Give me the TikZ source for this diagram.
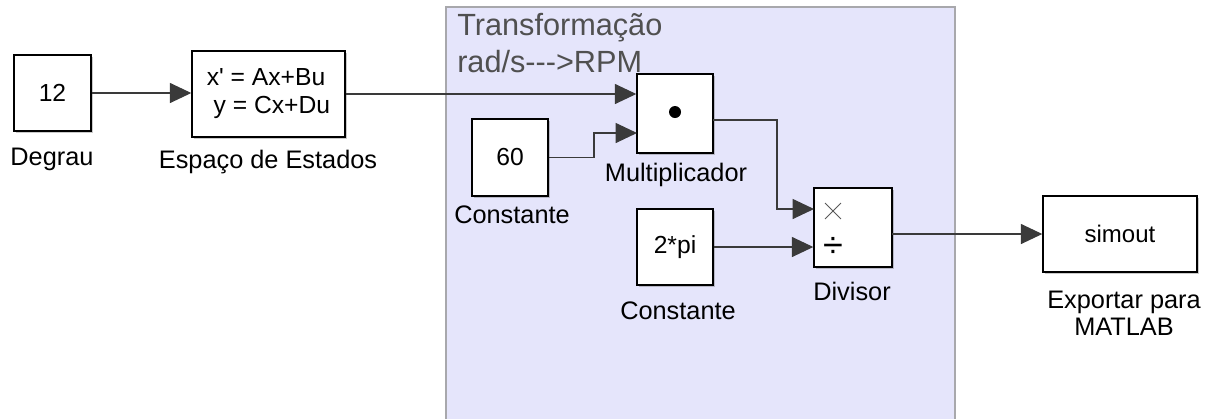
\documentclass[tikz,border=0pt]{standalone}
\usepackage{fontspec}
\setmainfont{Liberation Sans}
\usetikzlibrary{arrows.meta,shadows,calc,shapes.misc}
\definecolor{areafill}{HTML}{E5E5FB}
\definecolor{areaedge}{HTML}{A8A8AC}
\definecolor{wire}{HTML}{3A3A3A}
\definecolor{titlegray}{HTML}{505050}
\tikzset{
  block/.style={draw=black, line width=1.1pt, fill=white, inner sep=0pt,
    drop shadow={shadow xshift=1.3pt, shadow yshift=-1.3pt, opacity=0.35, fill=black!60},
    font=\fontsize{18.5}{21}\selectfont},
  lbl/.style={font=\fontsize{19}{20.5}\selectfont, inner sep=0pt, align=center},
  wireline/.style={draw=wire, line width=0.8pt},
  sig/.style={wireline, -{Triangle[length=16pt, width=15pt]}},
}
\begin{document}
\begin{tikzpicture}[x=0.75pt, y=-0.75pt]
  \useasboundingbox (0,0) rectangle (1210,419);

  % subsystem area
  \fill[areafill] (446,7) rectangle (955,419);
  \draw[areaedge, line width=1.2pt] (446,419) -- (446,7) -- (955,7) -- (955,419);
  \node[anchor=north west, inner sep=0pt, align=left, text=titlegray,
        font=\fontsize{23}{27.5}\selectfont] (title) at (457,13)
        {Transformação\\rad/s-{}-{}-{}>RPM};

  % blocks
  \node[block, minimum width=77*0.75pt, minimum height=76*0.75pt] (deg) at (52.5,93) {12};
  \node[block, minimum width=153*0.75pt, minimum height=86*0.75pt, align=left] (ss) at (268.5,94)
        {x\textquotesingle{} = Ax+Bu\\\ y = Cx+Du};
  \node[block, minimum width=76*0.75pt, minimum height=79*0.75pt] (mul) at (675,113.5) {};
  \node[block, minimum width=76*0.75pt, minimum height=77*0.75pt] (c60) at (510,157.5) {60};
  \node[block, minimum width=76*0.75pt, minimum height=76*0.75pt] (c2pi) at (675,247) {2*pi};
  \node[block, minimum width=78*0.75pt, minimum height=79*0.75pt] (div) at (853,227.5) {};
  \node[block, minimum width=154*0.75pt, minimum height=76*0.75pt,
        font=\fontsize{18}{20}\selectfont] (sim) at (1120,234) {simout};

  % block glyphs
  \node[circle, fill=black, inner sep=0pt, minimum size=12*0.75pt] (dot) at (675,112) {};
  \node[cross out, draw=black!65, line width=0.7pt, inner sep=0pt,
        minimum size=15*0.75pt] (times) at (833,211) {};
  \node[inner sep=0pt, font=\fontsize{27}{27}\selectfont] (divide) at (833,247) {÷};

  % labels
  \node[lbl] (degl) at (52,159) {Degrau};
  \node[lbl] (ssl) at (268,162) {Espaço de Estados};
  \node[lbl] (mull) at (676,175) {Multiplicador};
  \node[lbl] (c60l) at (512,215) {Constante};
  \node[lbl] (c2pil) at (678,311) {Constante};
  \node[lbl] (divl) at (852,291) {Divisor};
  \node[lbl] (siml) at (1124,313) {Exportar para\\MATLAB};

  % port coordinates
  \coordinate (mulin1) at (mul.west |- ss.east);
  \coordinate (mulin2) at (637,133);
  \coordinate (mulout) at (713,120);
  \coordinate (divin1) at (814,209);
  \coordinate (divin2) at (div.west |- c2pi.east);
  \coordinate (divout) at (892,234);

  % signals
  \draw[sig] (deg.east) -- (deg.east -| ss.west);
  \draw[sig] (ss.east) -- (mulin1);
  \draw[sig] (c60.east) -- (594,157.5) -- (594,133) -- (mulin2);
  \draw[sig] (mulout) -- (777,120) -- (777,209) -- (divin1);
  \draw[sig] (c2pi.east) -- (divin2);
  \draw[sig] (divout) -- (sim.west);
\end{tikzpicture}
\end{document}
